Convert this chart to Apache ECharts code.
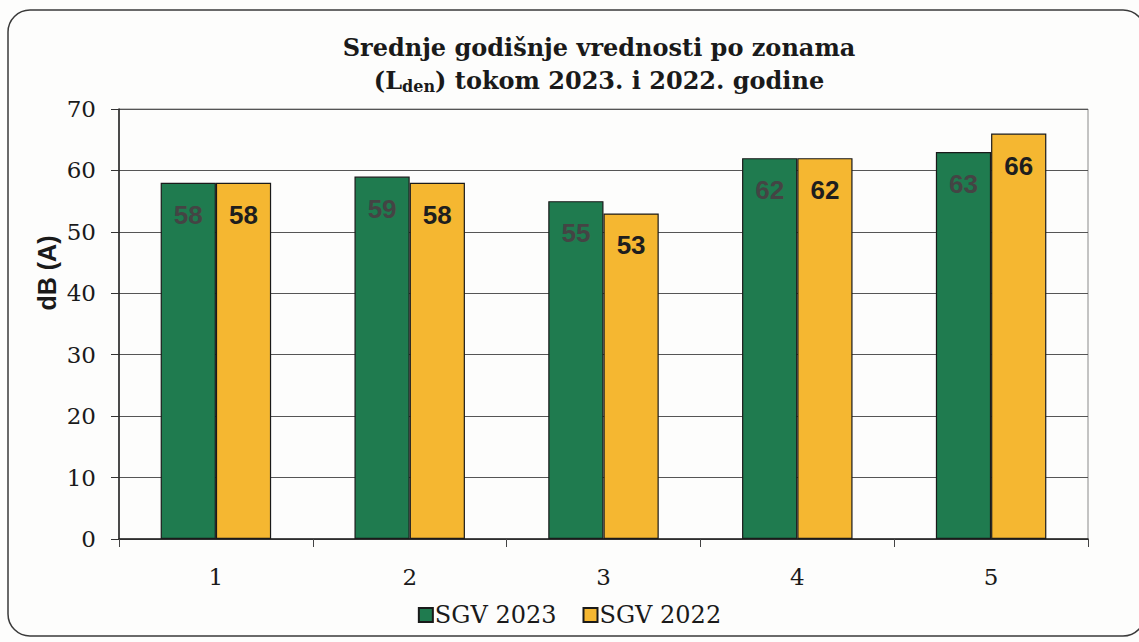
<!DOCTYPE html>
<html>
<head>
<meta charset="utf-8">
<script src="https://cdn.jsdelivr.net/npm/echarts@6/dist/echarts.min.js"></script>
<style>
  html, body { margin: 0; padding: 0; background: #fdfdfc; }
  #chart { width: 1139px; height: 642px; }
</style>
</head>
<body>
<div id="chart"></div>
<script>
// podaci
const zones = ['1', '2', '3', '4', '5'];
const sgv2023 = [58, 59, 55, 62, 63];
const sgv2022 = [58, 58, 53, 62, 66];
const seriesNames = ['SGV 2023', 'SGV 2022'];

const serif = 'DejaVu Serif';
const sans = 'Liberation Sans';

let chart = echarts.init(document.getElementById('chart'), null, { renderer: 'svg' });

let option = {
    backgroundColor: '#fdfdfc',
    animation: false,
    title: {
        text: '{t|Srednje godišnje vrednosti po zonama}\n{t|(L}{sub|den}{t|) tokom 2023. i 2022. godine}',
        left: 594,
        textAlign: 'center',
        top: 26,
        textStyle: {
            fontFamily: serif,
            fontWeight: 'bold',
            fontSize: 24,
            lineHeight: 33,
            color: '#1a1a1a',
            rich: {
                t: {
                    fontFamily: serif,
                    fontWeight: 'bold',
                    fontSize: 24,
                    lineHeight: 33,
                    color: '#1a1a1a'
                },
                sub: {
                    fontFamily: serif,
                    fontWeight: 'bold',
                    fontSize: 16,
                    color: '#1a1a1a',
                    padding: [12, 0, 0, 0]
                }
            }
        }
    },
    legend: {
        data: seriesNames,
        left: 'center',
        top: 598,
        itemWidth: 14,
        itemHeight: 14,
        itemGap: 26,
        icon: 'rect',
        textStyle: { fontFamily: serif, fontSize: 24, color: '#1a1a1a', padding: [0, 0, 0, -3] }
    },
    grid: {
        left: 119, right: 51, top: 109, bottom: 103,
        show: true, borderColor: '#8a8a8a', borderWidth: 1
    },
    xAxis: {
        type: 'category',
        data: zones,
        axisLine: { lineStyle: { color: '#222', width: 1.5 } },
        axisTick: { show: true, length: 8, lineStyle: { color: '#444' } },
        axisLabel: { fontFamily: serif, fontSize: 23, color: '#1a1a1a', margin: 26 }
    },
    yAxis: {
        type: 'value',
        min: 0, max: 70, interval: 10,
        axisLine: { show: true, lineStyle: { color: '#222', width: 1.5 } },
        axisTick: { show: true, length: 8, lineStyle: { color: '#333' } },
        axisLabel: { fontFamily: serif, fontSize: 23, color: '#1a1a1a', margin: 23 },
        splitLine: { lineStyle: { color: '#555', width: 1 } }
    },
    series: [
        {
            name: seriesNames[0],
            type: 'bar',
            data: sgv2023,
            barGap: '0%',
            barCategoryGap: '43%',
            itemStyle: { color: '#1f7b4f', borderColor: '#1a1a1a', borderWidth: 1.2 },
            label: {
                show: true, position: 'insideTop', distance: 19,
                fontFamily: sans, fontWeight: 'bold', fontSize: 26, color: '#444'
            }
        },
        {
            name: seriesNames[1],
            type: 'bar',
            data: sgv2022,
            itemStyle: { color: '#f5b731', borderColor: '#1a1a1a', borderWidth: 1.2 },
            label: {
                show: true, position: 'insideTop', distance: 19,
                fontFamily: sans, fontWeight: 'bold', fontSize: 26, color: '#1e1e1e'
            }
        }
    ],
    graphic: [
        {
            type: 'rect',
            shape: { x: 8, y: 10, width: 1137, height: 626, r: 22 },
            style: { fill: 'none', stroke: '#3a3a3a', lineWidth: 1.5 },
            silent: true,
            z: -1
        },
        {
            type: 'text',
            x: 47, y: 273,
            rotation: Math.PI / 2,
            style: {
                text: 'dB (A)',
                fontFamily: sans, fontWeight: 'bold', fontSize: 25,
                fill: '#1a1a1a', align: 'center', verticalAlign: 'middle'
            }
        }
    ]
};

chart.setOption(option);
</script>
</body>
</html>
